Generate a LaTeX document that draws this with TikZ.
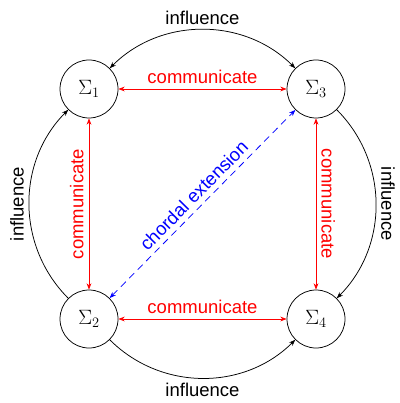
\documentclass[tikz,border=0pt]{standalone}
\usepackage{fontspec}
\setmainfont{Liberation Sans}
\usetikzlibrary{arrows.meta}
% subsystem symbol, enlarged beyond the largest fixed math size
\newcommand\subsys[1]{\scalebox{1.2}{$\Sigma_{#1}$}}
\begin{document}
\begin{tikzpicture}[x=1pt,y=-1pt,
  line width=0.75pt,
  >={Stealth},
  agent/.style={circle,draw,minimum size=58pt,inner sep=0pt,
    font=\fontsize{17.28}{21}\selectfont},
  lbl/.style={font=\fontsize{18.5}{22}\selectfont,inner sep=5pt},
  comm/.style={red,<->},
  infl/.style={black},
  chord/.style={blue,<->,dash pattern=on 7pt off 5pt}]
\useasboundingbox (0,0) rectangle (399,403);

% the four subsystems
\node[agent] (s1) at (89,89)  {\subsys{1}};
\node[agent] (s3) at (316,89) {\subsys{3}};
\node[agent] (s2) at (89,319) {\subsys{2}};
\node[agent] (s4) at (316,319) {\subsys{4}};

% communication links
\draw[comm] (s1) -- node[lbl,midway,above] {communicate} (s3);
\draw[comm] (s2) -- node[lbl,midway,above] {communicate} (s4);
\draw[comm] (s2) -- node[lbl,midway,above,sloped] {communicate} (s1);
\draw[comm] (s3) -- node[lbl,midway,above,sloped] {communicate} (s4);

% influence arcs around the outside
\draw[infl,<->] (s1.north east) to[bend left=45]
  node[lbl,midway,above] {influence} (s3.north west);
\draw[infl,->] (s2.north west) to[bend left=45]
  node[lbl,midway,above,sloped] {influence} (s1.south west);
\draw[infl,->] (s2.south east) to[bend right=45]
  node[lbl,midway,below] {influence} (s4.south west);
\draw[infl,->] (s3.south east) to[bend left=45]
  node[lbl,midway,above,sloped] {influence} (s4.north east);

% chordal extension
\draw[chord] (s2) -- node[lbl,midway,above,sloped] {chordal extension} (s3);
\end{tikzpicture}
\end{document}
